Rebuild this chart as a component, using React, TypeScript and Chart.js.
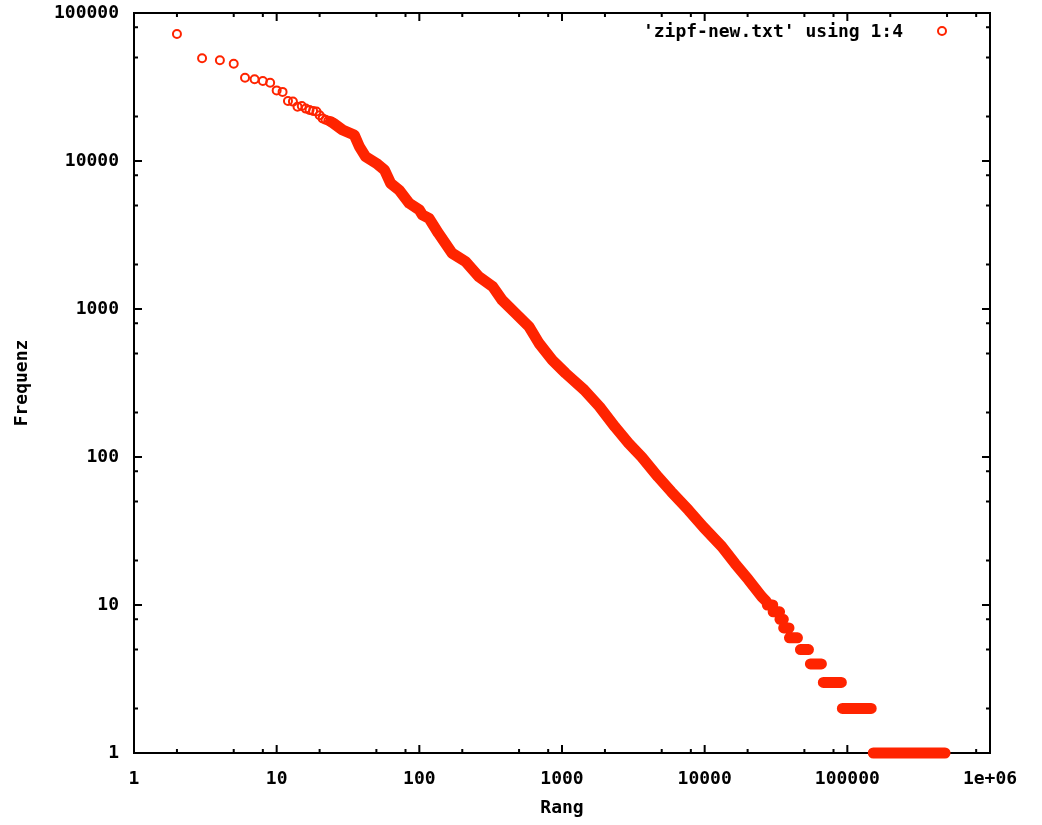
import { useEffect, useRef } from 'react';
import { Chart, registerables } from 'chart.js';

Chart.register(...registerables);

// ---- data ----
const seriesLabel = "'zipf-new.txt' using 1:4";

// individual points at the head (rank, frequency)
const headRanks = [2, 3, 4, 5, 6, 7, 8, 9, 10, 11, 12, 13, 14, 15, 16, 17, 18, 19, 20, 21, 22, 23, 24, 25];
const headFreqs = [72100, 49400, 47900, 45400, 36500, 35700, 34700, 33800, 30000, 29300, 25400, 25200, 23300, 23500, 22600, 22100, 21800, 21600, 20400, 19400, 19000, 18700, 18400, 18000];

// dense body of the distribution (overlapping points form a band)
const bandRanks = [24, 25, 29, 35, 38, 42, 50, 57, 63, 72, 85, 100, 105, 117, 136, 170, 211, 262, 326, 380, 473, 587, 690, 855, 1060, 1430, 1830, 2350, 2930, 3620, 4700, 5830, 7700, 9800, 13200, 16300, 20300, 25100, 27000];
const bandFreqs = [18400, 18000, 16200, 15000, 12500, 10700, 9640, 8690, 7060, 6370, 5180, 4670, 4320, 4100, 3250, 2380, 2090, 1650, 1420, 1150, 935, 760, 587, 452, 368, 284, 219, 160, 124, 100, 73.6, 58.3, 43.8, 33.6, 24.8, 19.1, 14.8, 11.4, 10.6];

// tail: runs of ranks sharing the same small frequency
const plateauFreqs = [10, 9, 8, 7, 6, 5, 4, 3, 2, 1];
const plateauStartRanks = [27500, 30200, 33700, 35800, 39300, 46900, 55100, 67900, 92300, 152000];
const plateauEndRanks = [30000, 33500, 35600, 39000, 44700, 53400, 65800, 90800, 147000, 484000];

// axes
const xMajorTicks = [1, 10, 100, 1000, 10000, 100000, 1000000];
const xTickLabels = ['1', '10', '100', '1000', '10000', '100000', '1e+06'];
const yMajorTicks = [1, 10, 100, 1000, 10000, 100000];
const yTickLabels = ['1', '10', '100', '1000', '10000', '100000'];
const minorMultipliers = [2, 5, 8];
const xTitle = 'Rang';
const yTitle = 'Frequenz';

const RED = 'rgb(255,36,0)';
const FONT_FAMILY = '"DejaVu Sans Mono", "Liberation Mono", monospace';

const framePlugin = {
  id: 'gnuplotFrame',
  beforeDatasetsDraw(chart: any) {
    const { ctx, chartArea, scales } = chart;
    const { left, right, top, bottom } = chartArea;
    const xs = scales.x;
    const ys = scales.y;
    ctx.save();
    ctx.strokeStyle = '#000';
    ctx.lineWidth = 2;
    ctx.strokeRect(left, top, right - left, bottom - top);
    ctx.beginPath();
    const tickX = (v: number, len: number) => {
      const p = xs.getPixelForValue(v);
      ctx.moveTo(p, bottom);
      ctx.lineTo(p, bottom - len);
      ctx.moveTo(p, top);
      ctx.lineTo(p, top + len);
    };
    const tickY = (v: number, len: number) => {
      const p = ys.getPixelForValue(v);
      ctx.moveTo(left, p);
      ctx.lineTo(left + len, p);
      ctx.moveTo(right, p);
      ctx.lineTo(right - len, p);
    };
    xMajorTicks.forEach((v, i) => {
      tickX(v, 8);
      if (i < xMajorTicks.length - 1) minorMultipliers.forEach((m) => tickX(v * m, 4));
    });
    yMajorTicks.forEach((v, i) => {
      tickY(v, 8);
      if (i < yMajorTicks.length - 1) minorMultipliers.forEach((m) => tickY(v * m, 4));
    });
    ctx.stroke();
    ctx.restore();
  },
  afterDraw(chart: any) {
    const { ctx, chartArea } = chart;
    const { right, top } = chartArea;
    ctx.save();
    ctx.font = `bold 18px ${FONT_FAMILY}`;
    ctx.fillStyle = '#000';
    ctx.textAlign = 'right';
    ctx.textBaseline = 'alphabetic';
    ctx.fillText(seriesLabel, right - 87, top + 24);
    ctx.strokeStyle = RED;
    ctx.lineWidth = 2;
    ctx.beginPath();
    ctx.arc(right - 48, top + 18, 4, 0, Math.PI * 2);
    ctx.stroke();
    ctx.restore();
  },
};

export default function App() {
  const ref = useRef<HTMLCanvasElement>(null);

  useEffect(() => {
    const headData = headRanks.map((r, i) => ({ x: r, y: headFreqs[i] }));
    const bandData = bandRanks.map((r, i) => ({ x: r, y: bandFreqs[i] }));
    const plateauData: any[] = [];
    plateauFreqs.forEach((f, i) => {
      plateauData.push({ x: plateauStartRanks[i], y: f });
      plateauData.push({ x: plateauEndRanks[i], y: f });
      plateauData.push({ x: plateauEndRanks[i], y: null });
    });

    const tickFont = { family: FONT_FAMILY, size: 18, weight: 'bold' as const };

    const chart = new Chart(ref.current!, {
      type: 'line',
      data: {
        datasets: [
          {
            label: seriesLabel,
            data: headData,
            showLine: false,
            pointStyle: 'circle',
            pointRadius: 4,
            pointBorderWidth: 2,
            pointBorderColor: RED,
            pointBackgroundColor: 'rgba(0,0,0,0)',
            borderColor: RED,
            clip: false,
          } as any,
          {
            label: seriesLabel,
            data: bandData,
            borderColor: RED,
            borderWidth: 11,
            borderCapStyle: 'round',
            borderJoinStyle: 'round',
            pointRadius: 0,
            tension: 0,
            clip: false,
          } as any,
          {
            label: seriesLabel,
            data: plateauData,
            borderColor: RED,
            borderWidth: 11,
            borderCapStyle: 'round',
            borderJoinStyle: 'round',
            pointRadius: 0,
            spanGaps: false,
            tension: 0,
            clip: false,
          } as any,
        ],
      },
      options: {
        animation: false,
        responsive: false,
        layout: { padding: { left: 0, top: 13, right: 52, bottom: 0 } },
        plugins: { legend: { display: false }, tooltip: { enabled: false } },
        scales: {
          x: {
            type: 'logarithmic',
            min: 1,
            max: 1000000,
            grid: { display: false, drawTicks: false },
            border: { display: false },
            afterBuildTicks: (scale: any) => {
              scale.ticks = xMajorTicks.map((v) => ({ value: v }));
            },
            afterFit: (scale: any) => {
              scale.height = 72;
              scale.paddingLeft = 0;
              scale.paddingRight = 0;
            },
            ticks: {
              autoSkip: false,
              maxRotation: 0,
              padding: 16,
              color: '#000',
              font: tickFont,
              callback: (_v: any, i: number) => xTickLabels[i],
            },
            title: {
              display: true,
              text: xTitle,
              color: '#000',
              font: tickFont,
              padding: { top: 0, bottom: 6 },
            },
          },
          y: {
            type: 'logarithmic',
            min: 1,
            max: 100000,
            grid: { display: false, drawTicks: false },
            border: { display: false },
            afterBuildTicks: (scale: any) => {
              scale.ticks = yMajorTicks.map((v) => ({ value: v }));
            },
            afterFit: (scale: any) => {
              scale.width = 134;
              scale.paddingTop = 0;
              scale.paddingBottom = 0;
            },
            ticks: {
              autoSkip: false,
              padding: 15,
              color: '#000',
              font: tickFont,
              callback: (_v: any, i: number) => yTickLabels[i],
            },
            title: {
              display: true,
              text: yTitle,
              color: '#000',
              font: tickFont,
              padding: { top: 12, bottom: 0 },
            },
          },
        },
      } as any,
      plugins: [framePlugin],
    });
    return () => chart.destroy();
  }, []);

  return (
    <div style={{ position: 'absolute', left: 0, top: 0, width: 1042, height: 825, background: '#fff' }}>
      <canvas ref={ref} width={1042} height={825} style={{ display: 'block' }} />
    </div>
  );
}
